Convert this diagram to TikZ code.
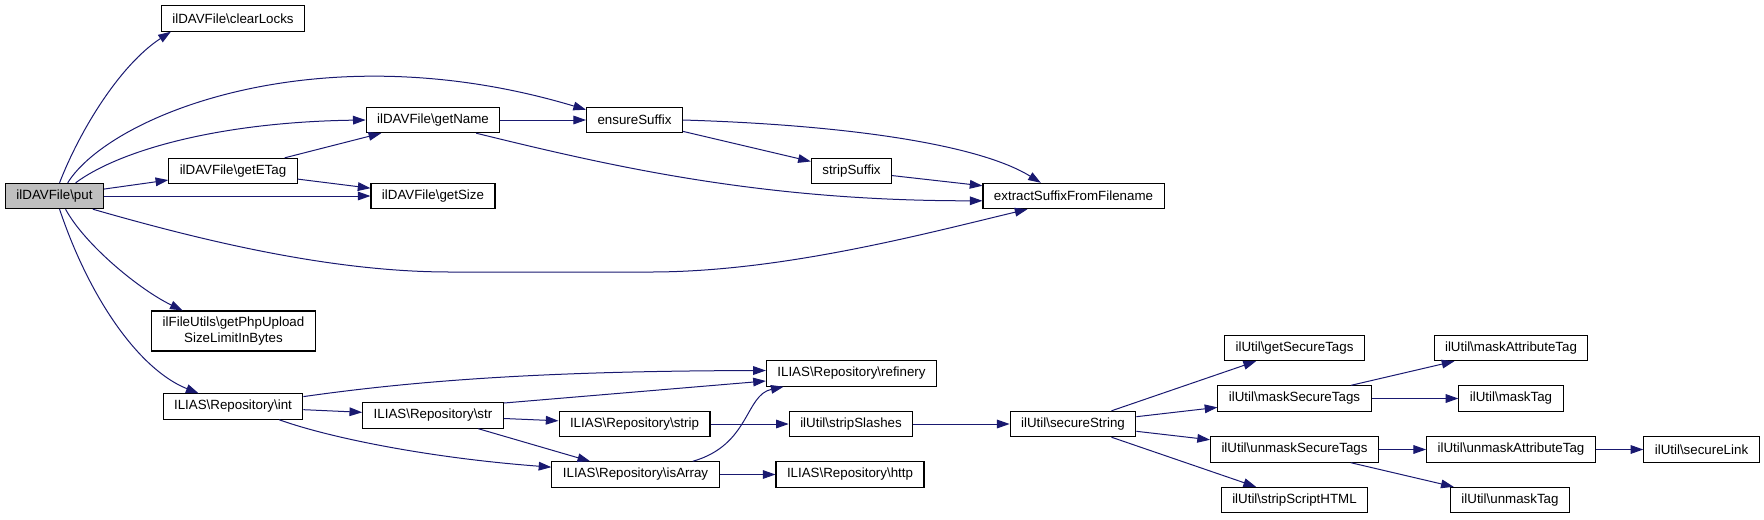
\documentclass[tikz,border=0pt]{standalone}
\usepackage{fontspec}
\setmainfont{Liberation Sans}
\usetikzlibrary{arrows.meta}
\definecolor{midnightblue}{HTML}{191970}
\definecolor{grey75}{HTML}{BFBFBF}
\newcommand{\bsl}{\textbackslash}

\begin{document}
\begin{tikzpicture}
  [x=0.75pt,y=-0.75pt,
   every node/.style={draw=black,fill=white,line width=0.8pt,inner xsep=8.25pt,inner ysep=0pt,
     minimum height=19pt,font=\fontsize{10}{12}\selectfont},
   cur/.style={fill=grey75},
   call/.style={draw=midnightblue,line width=0.75pt,-{Triangle[length=9.5pt,width=6.5pt]}}]
  \useasboundingbox (0,0) rectangle (1764,519);

  \node[cur] (put) at (54.5,196) {ilDAVFile\bsl{}put};
  \node (clearLocks) at (233,18.5) {ilDAVFile\bsl{}clearLocks};
  \node (getETag) at (233,171) {ilDAVFile\bsl{}getETag};
  \node[align=center,minimum height=30pt] (getPhp) at (233.5,331) {ilFileUtils\bsl{}getPhpUpload\\SizeLimitInBytes};
  \node (int) at (233,406.5) {ILIAS\bsl{}Repository\bsl{}int};
  \node (getName) at (433,120) {ilDAVFile\bsl{}getName};
  \node (getSize) at (433,196) {ilDAVFile\bsl{}getSize};
  \node (str) at (433,415.5) {ILIAS\bsl{}Repository\bsl{}str};
  \node (ensureSuffix) at (634.5,120) {ensureSuffix};
  \node (strip) at (634.5,424) {ILIAS\bsl{}Repository\bsl{}strip};
  \node (isArray) at (635.5,474.5) {ILIAS\bsl{}Repository\bsl{}isArray};
  \node (stripSuffix) at (851.5,171) {stripSuffix};
  \node (refinery) at (851.5,373.5) {ILIAS\bsl{}Repository\bsl{}refinery};
  \node (stripSlashes) at (851,424) {ilUtil\bsl{}stripSlashes};
  \node (http) at (850,474.5) {ILIAS\bsl{}Repository\bsl{}http};
  \node (extract) at (1073.5,196) {extractSuffixFromFilename};
  \node (secureString) at (1073,424) {ilUtil\bsl{}secureString};
  \node (getSecureTags) at (1294.5,348) {ilUtil\bsl{}getSecureTags};
  \node (maskSecureTags) at (1294.5,398.5) {ilUtil\bsl{}maskSecureTags};
  \node (unmaskSecureTags) at (1294.5,449.5) {ilUtil\bsl{}unmaskSecureTags};
  \node (stripScript) at (1294.5,500) {ilUtil\bsl{}stripScriptHTML};
  \node (maskAttr) at (1511,348) {ilUtil\bsl{}maskAttributeTag};
  \node (maskTag) at (1511,398.5) {ilUtil\bsl{}maskTag};
  \node (unmaskAttr) at (1511,449.5) {ilUtil\bsl{}unmaskAttributeTag};
  \node (unmaskTag) at (1510,500) {ilUtil\bsl{}unmaskTag};
  \node (secureLink) at (1701.5,449.5) {ilUtil\bsl{}secureLink};

  \foreach \from/\to in {put/getETag, put/getSize, getETag/getName, getETag/getSize,
      getName/ensureSuffix, ensureSuffix/stripSuffix, stripSuffix/extract,
      int/str, str/strip, str/isArray, strip/stripSlashes, isArray/http,
      stripSlashes/secureString, secureString/getSecureTags, secureString/maskSecureTags,
      secureString/unmaskSecureTags, secureString/stripScript,
      maskSecureTags/maskAttr, maskSecureTags/maskTag,
      unmaskSecureTags/unmaskAttr, unmaskSecureTags/unmaskTag, unmaskAttr/secureLink}
    \draw[call] (\from) -- (\to);

  % curved calls
  \draw[call] (put.69) .. controls (80,130) and (120,65) .. (clearLocks.192);
  \draw[call] (put.45) .. controls (110,115) and (320,30) .. (ensureSuffix.168);
  \draw[call] (put.32) .. controls (120,150) and (220,122) .. (getName.west);
  \draw[call] (put.341) .. controls (200,240) and (330,272) .. (450,272) -- (650,272)
    .. controls (780,272) and (920,235) .. (extract.196);
  \draw[call] (put.310) .. controls (85,245) and (140,290) .. (getPhp.158);
  \draw[call] (put.291) .. controls (90,300) and (140,370) .. (int.159);
  \draw[call] (getName.343) .. controls (610,166) and (760,201) .. (extract.183);
  \draw[call] (ensureSuffix.east) .. controls (850,125) and (980,145) .. (extract.158);
  \draw[call] (int.8) .. controls (420,380) and (550,371) .. (refinery.178);
  \draw[call] (str.10) -- (refinery.185);
  \draw[call] (int.344) .. controls (330,438) and (430,458) .. (isArray.175);
  \draw[call] (isArray.13) .. controls (750,445) and (745,395) .. (refinery.191);

\end{tikzpicture}
\end{document}
